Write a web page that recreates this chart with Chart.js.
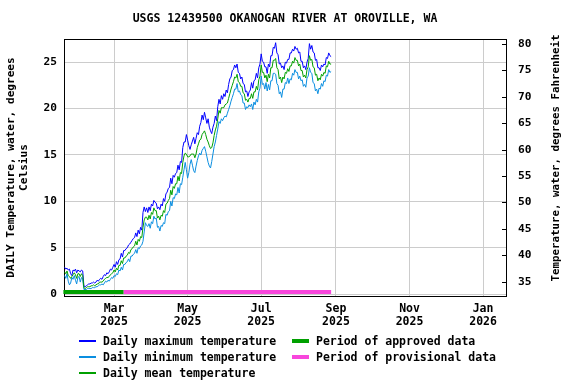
<!DOCTYPE html>
<html><head><meta charset="utf-8">
<script src="https://cdn.jsdelivr.net/npm/chart.js@4.4.1/dist/chart.umd.min.js"></script>
<style>
html,body{margin:0;padding:0;background:#fff;}
#wrap{position:relative;width:576px;height:384px;overflow:hidden;}
canvas{position:absolute;left:0;top:0;}
.lg{position:absolute;font-family:"DejaVu Sans Mono",monospace;font-weight:bold;font-size:11.5px;color:#000;line-height:14px;white-space:nowrap;}
.sw{position:absolute;}
</style></head><body>
<div id="wrap"><canvas id="c" width="576" height="384"></canvas><div id="legend"></div></div>
<script>
// ---- data (day numbers counted from Jan 1 2025 = 0) ----
const startDay = 18; // Jan 18, 2025
const maxTemp = [
2.9,2.7,2.8,2.6,2.7,2.2,2.0,2.6,2.5,2.7,
2.3,2.6,2.5,2.4,2.6,2.5,0.9,0.8,0.9,1.0,
1.1,1.1,1.2,1.2,1.3,1.2,1.3,1.5,1.4,1.6,
1.7,1.6,1.9,2.1,2.0,2.3,2.2,2.4,2.7,2.6,
2.9,3.2,2.9,3.5,3.2,3.7,3.8,4.4,4.0,4.7,
4.7,4.9,5.0,5.3,5.4,5.6,5.8,6.0,6.1,6.6,
6.2,6.9,6.5,7.2,6.9,8.8,9.4,8.9,9.3,8.8,
9.4,9.0,9.7,9.5,10.1,9.9,9.8,9.2,9.4,9.1,
9.7,9.5,10.3,10.0,10.8,11.0,11.4,11.5,12.5,11.9,
12.8,12.6,13.0,13.1,13.9,13.4,14.3,14.2,15.8,16.4,
16.4,17.2,16.6,16.0,15.6,16.1,16.5,16.9,16.2,16.8,
17.4,17.2,18.1,18.5,19.3,18.8,19.6,19.0,18.4,18.9,
18.0,17.6,17.3,18.0,18.4,19.2,18.7,20.2,21.0,20.5,
21.4,21.0,21.6,21.3,22.0,21.7,22.6,23.2,23.4,24.1,
24.2,24.7,24.4,24.8,23.9,23.8,23.2,23.4,22.7,22.6,
21.8,21.9,21.3,21.8,22.0,22.8,22.2,23.0,23.1,23.8,
23.3,24.4,24.8,25.9,25.1,25.0,24.5,24.5,23.8,24.8,
24.5,25.7,25.7,26.6,26.5,27.1,26.0,25.8,24.8,24.9,
24.4,24.6,24.2,25.0,24.9,25.3,25.3,26.0,26.0,26.4,
26.2,26.7,26.4,26.5,26.0,26.1,25.1,25.1,24.4,24.6,
24.2,25.0,25.4,27.0,26.4,26.8,26.1,26.0,25.2,25.3,
24.4,24.4,24.1,24.7,24.5,24.8,24.7,25.5,25.4,26.0,
25.7,25.6];
const minTemp = [
2.0,1.7,2.2,1.4,1.0,1.2,1.8,1.6,2.0,1.5,
1.1,1.8,1.9,1.3,1.8,1.6,0.5,0.5,0.5,0.6,
0.6,0.6,0.6,0.7,0.7,0.7,0.8,0.8,0.9,1.0,
1.0,1.1,1.0,1.2,1.4,1.3,1.5,1.4,1.6,1.8,
1.7,2.0,1.9,2.2,2.1,2.6,2.5,2.9,2.6,3.2,
3.2,3.4,3.5,3.8,3.5,4.1,4.1,4.3,4.4,4.8,
4.4,5.0,4.9,5.2,5.3,5.7,6.7,7.7,7.4,7.3,
7.6,7.1,7.8,7.6,8.4,8.1,8.2,7.2,7.3,6.8,
7.4,7.3,7.7,7.6,8.6,8.5,8.9,9.0,10.0,9.5,
10.4,10.3,10.8,10.7,11.5,10.9,11.9,11.8,12.6,13.4,
14.2,13.4,12.5,13.1,14.0,14.5,13.9,13.3,13.1,13.8,
14.4,14.9,15.2,15.0,15.5,15.7,15.9,15.4,14.8,14.2,
13.8,13.6,14.3,15.1,15.9,16.4,17.1,17.8,18.6,18.4,
18.9,18.7,19.0,19.2,19.1,19.5,19.9,20.3,20.8,21.2,
21.6,22.1,22.1,22.7,21.8,21.9,21.5,21.4,20.6,20.6,
19.9,20.2,20.1,20.4,20.2,20.5,19.9,20.7,20.4,21.0,
20.7,21.8,22.2,23.5,22.6,22.7,22.1,22.8,21.9,22.6,
22.0,23.0,23.0,23.8,23.8,23.7,22.7,22.5,21.6,21.8,
21.2,22.1,22.1,22.8,22.7,23.3,22.7,23.2,23.1,23.8,
23.6,24.2,23.9,23.9,23.2,23.5,23.0,23.1,22.4,22.6,
22.3,23.3,23.5,24.4,23.9,23.8,22.8,22.7,21.9,22.1,
21.6,22.2,22.1,22.7,22.4,23.0,22.9,23.6,23.5,24.2,
23.9,24.0];
const meanTemp = [
2.4,2.2,2.5,2.0,1.9,1.7,1.9,2.1,2.3,2.1,
1.7,2.2,2.2,1.9,2.2,2.0,0.7,0.6,0.7,0.8,
0.8,0.8,0.9,0.9,1.0,0.9,1.0,1.1,1.1,1.3,
1.3,1.3,1.4,1.6,1.7,1.8,1.8,1.9,2.1,2.2,
2.3,2.6,2.4,2.8,2.6,3.1,3.1,3.6,3.3,3.9,
3.9,4.1,4.2,4.5,4.4,4.8,4.9,5.1,5.2,5.7,
5.3,5.9,5.7,6.2,6.1,7.2,8.0,8.3,8.3,8.0,
8.5,8.1,8.8,8.6,9.3,9.0,9.0,8.2,8.4,8.0,
8.5,8.4,9.0,8.8,9.7,9.8,10.1,10.3,11.2,10.7,
11.6,11.4,11.9,11.9,12.7,12.2,13.1,13.0,14.2,14.9,
15.2,15.1,14.8,14.8,14.9,15.1,15.1,15.1,14.7,15.1,
15.8,16.2,16.6,16.7,17.2,17.4,17.6,17.2,16.7,16.4,
16.0,15.7,15.8,16.3,17.1,17.7,18.1,18.9,19.8,19.5,
20.1,20.1,20.1,20.4,20.5,20.6,21.1,21.6,22.1,22.5,
22.9,23.4,23.3,23.7,22.9,22.8,22.4,22.4,21.7,21.6,
20.9,21.0,20.7,21.1,21.1,21.6,21.1,21.8,21.8,22.4,
22.0,23.1,23.5,24.7,23.9,23.9,23.3,23.6,22.9,23.7,
23.3,24.4,24.4,25.2,25.2,25.4,24.4,24.2,23.2,23.4,
22.8,23.4,23.2,23.9,23.8,24.3,24.0,24.6,24.6,25.1,
24.9,25.5,25.2,25.2,24.6,24.8,24.1,24.1,23.4,23.6,
23.3,24.2,24.5,25.7,25.2,25.3,24.5,24.4,23.6,23.7,
23.0,23.3,23.1,23.7,23.5,23.9,23.8,24.6,24.5,25.1,
24.8,24.8];
const approvedPeriod = [17, 67];     // day numbers
const provisionalPeriod = [67, 239]; // day numbers
const tickDays = [59, 120, 181, 243, 304, 365];
const tickMonths = ['Mar', 'May', 'Jul', 'Sep', 'Nov', 'Jan'];
const tickYears = ['2025', '2025', '2025', '2025', '2025', '2026'];
const celsiusTicks = [0, 5, 10, 15, 20, 25];
const fahrenheitTicks = [35, 40, 45, 50, 55, 60, 65, 70, 75, 80];
const rightTitle = 'Temperature, water, degrees Fahrenheit';

const FONT = '"DejaVu Sans Mono", monospace';
const C_MAX = '#0000ff', C_MIN = '#0a8ee0', C_MEAN = '#00a000';
const C_APPR = '#00a000', C_PROV = '#f846dc';

const toXY = arr => arr.map((v, i) => ({x: startDay + i, y: v}));

const periodBars = {
  id: 'periodBars',
  beforeDatasetsDraw(chart) {
    const xs = chart.scales.x, a = chart.chartArea, ctx = chart.ctx;
    ctx.save();
    ctx.lineWidth = 4; ctx.lineCap = 'butt';
    const y = Math.round(a.bottom) - 4;
    [[approvedPeriod, C_APPR], [provisionalPeriod, C_PROV]].forEach(([p, c]) => {
      ctx.strokeStyle = c;
      ctx.beginPath();
      ctx.moveTo(xs.getPixelForValue(p[0]), y);
      ctx.lineTo(xs.getPixelForValue(p[1]), y);
      ctx.stroke();
    });
    ctx.restore();
  },
  afterDraw(chart) {
    const a = chart.chartArea, ctx = chart.ctx, y1 = chart.scales.y1;
    ctx.save();
    ctx.strokeStyle = '#000'; ctx.lineWidth = 1;
    ctx.beginPath();
    ctx.moveTo(a.left, Math.round(a.top) + 0.5);
    ctx.lineTo(a.right + 0.5, Math.round(a.top) + 0.5);
    ctx.stroke();
    fahrenheitTicks.forEach(v => {
      const py = Math.round(y1.getPixelForValue(v)) + 0.5;
      ctx.beginPath();
      ctx.moveTo(a.right - 4, py);
      ctx.lineTo(a.right, py);
      ctx.stroke();
    });
    // right axis title, reading bottom-to-top
    ctx.translate(556, 158);
    ctx.rotate(-Math.PI / 2);
    ctx.fillStyle = '#000';
    ctx.font = 'bold 10.8px ' + FONT;
    ctx.textAlign = 'center';
    ctx.textBaseline = 'middle';
    ctx.fillText(rightTitle, 0, 0);
    ctx.restore();
  }
};

const tickFont = {family: FONT, size: 11.2, weight: 'bold'};

new Chart(document.getElementById('c'), {
  type: 'line',
  data: {
    datasets: [
      {label: 'Daily mean temperature', data: toXY(meanTemp), borderColor: C_MEAN, borderWidth: 1, pointRadius: 0, order: 0},
      {label: 'Daily maximum temperature', data: toXY(maxTemp), borderColor: C_MAX, borderWidth: 1, pointRadius: 0, order: 1},
      {label: 'Daily minimum temperature', data: toXY(minTemp), borderColor: C_MIN, borderWidth: 1, pointRadius: 0, order: 2}
    ]
  },
  options: {
    responsive: false,
    animation: false,
    layout: {padding: 0},
    plugins: {
      legend: {display: false},
      tooltip: {enabled: false},
      title: {
        display: true, fullSize: false,
        text: 'USGS 12439500 OKANOGAN RIVER AT OROVILLE, WA',
        color: '#000',
        font: {family: FONT, size: 11.5, weight: 'bold', lineHeight: 1.2},
        padding: {top: 12, bottom: 13.2}
      }
    },
    scales: {
      x: {
        type: 'linear', min: 17.5, max: 384,
        afterBuildTicks: s => { s.ticks = tickDays.map(v => ({value: v})); },
        ticks: {
          autoSkip: false, maxRotation: 0, color: '#000', padding: 7,
          font: {family: FONT, size: 11.5, weight: 'bold', lineHeight: 1.13},
          callback: v => { const i = tickDays.indexOf(v); return i >= 0 ? [tickMonths[i], tickYears[i]] : ''; }
        },
        grid: {color: '#cccccc', drawTicks: false},
        border: {color: '#000'},
        afterFit: s => { s.height = 88; }
      },
      y: {
        position: 'left', min: -0.2, max: 27.5,
        afterBuildTicks: s => { s.ticks = celsiusTicks.map(v => ({value: v})); },
        ticks: {color: '#000', padding: 7, font: tickFont},
        grid: {color: '#cccccc', drawTicks: false},
        border: {color: '#000'},
        title: {
          display: true, color: '#000',
          text: ['DAILY Temperature, water, degrees', 'Celsius'],
          font: {family: FONT, size: 11.1, weight: 'bold', lineHeight: 1.15},
          padding: {top: 4.6, bottom: 0}
        },
        afterFit: s => { s.width = 64; }
      },
      y1: {
        position: 'right', min: 32.3, max: 80.95,
        afterBuildTicks: s => { s.ticks = fahrenheitTicks.map(v => ({value: v})); },
        ticks: {color: '#000', padding: 12, font: tickFont},
        grid: {drawOnChartArea: false, drawTicks: false},
        border: {color: '#000'},
        afterFit: s => { s.width = 70; }
      }
    }
  },
  plugins: [periodBars]
});

// ---- HTML legend ----
const legendItems = [
  {text: 'Daily maximum temperature', color: C_MAX, kind: 'line', col: 0, row: 0},
  {text: 'Daily minimum temperature', color: C_MIN, kind: 'line', col: 0, row: 1},
  {text: 'Daily mean temperature', color: C_MEAN, kind: 'line', col: 0, row: 2},
  {text: 'Period of approved data', color: C_APPR, kind: 'bar', col: 1, row: 0},
  {text: 'Period of provisional data', color: C_PROV, kind: 'bar', col: 1, row: 1}
];
const rowY = [341, 357, 373];
const colSwatchX = [79, 292], colTextX = [103, 316];
const lg = document.getElementById('legend');
legendItems.forEach(it => {
  const cy = rowY[it.row];
  const sw = document.createElement('div');
  sw.className = 'sw';
  const h = it.kind === 'bar' ? 4 : 2;
  sw.style.cssText = `left:${colSwatchX[it.col]}px;top:${cy - h / 2}px;width:17px;height:${h}px;background:${it.color};`;
  lg.appendChild(sw);
  const t = document.createElement('div');
  t.className = 'lg';
  t.textContent = it.text;
  t.style.left = colTextX[it.col] + 'px';
  t.style.top = (cy - 7) + 'px';
  lg.appendChild(t);
});
</script>
</body></html>
